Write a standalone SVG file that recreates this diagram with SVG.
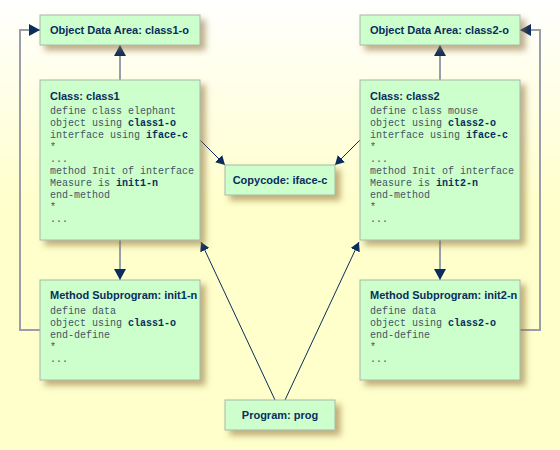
<svg xmlns="http://www.w3.org/2000/svg" width="560" height="450" viewBox="0 0 560 450">
<defs>
<linearGradient id="bg" x1="0" y1="0" x2="0" y2="1">
<stop offset="0" stop-color="#ffffff"/>
<stop offset="0.45" stop-color="#ffffcc"/>
<stop offset="1" stop-color="#ffffcc"/>
</linearGradient>
<filter id="sh" x="-20%" y="-20%" width="150%" height="160%">
<feDropShadow dx="5" dy="5" stdDeviation="3" flood-color="#8a6a30" flood-opacity="0.55"/>
</filter>
<marker id="ah" markerUnits="userSpaceOnUse" markerWidth="12" markerHeight="12" refX="11" refY="6" orient="auto">
<path d="M0,0 L11,6 L0,12 z" fill="#0a2d5e"/>
</marker>
<marker id="as" markerUnits="userSpaceOnUse" markerWidth="10" markerHeight="10" refX="9" refY="5" orient="auto">
<path d="M0,0 L9,5 L0,10 z" fill="#0a2d5e"/>
</marker>
</defs>
<style>
.box{fill:#ccffcc;stroke:#a8b8a8;stroke-width:1;filter:url(#sh)}
.t{font-family:"Liberation Sans",Arial,sans-serif;font-size:11px;font-weight:bold;fill:#0a2d5e}
.c{font-family:"Liberation Mono","Courier New",monospace;font-size:10px;fill:#445566}
.c tspan.b{font-weight:bold;fill:#0a2d5e}
.g{fill:none;stroke:#9a9eaa;stroke-width:2;marker-end:url(#ah)}
.n{fill:none;stroke:#0a2d5e;stroke-width:1;marker-end:url(#as)}
</style>
<rect width="560" height="450" fill="url(#bg)"/>
<g id="connectors">
<line class="g" x1="120" y1="80" x2="120" y2="45"/>
<line class="g" x1="440" y1="80" x2="440" y2="45"/>
<line class="g" x1="120" y1="240" x2="120" y2="280"/>
<line class="g" x1="440" y1="240" x2="440" y2="280"/>
<polyline class="g" points="40,330 20,330 20,30 40,30"/>
<polyline class="g" points="520,330 540,330 540,30 520,30"/>
<line class="n" x1="200" y1="140" x2="225" y2="165"/>
<line class="n" x1="360" y1="140" x2="335" y2="165"/>
<line class="n" x1="275" y1="400" x2="201" y2="242"/>
<line class="n" x1="285" y1="400" x2="359" y2="242"/>
</g>
<g id="oda1">
<rect class="box" x="40" y="15" width="160" height="30"/>
<text class="t" x="50" y="34">Object Data Area: class1-o</text>
</g>
<g id="oda2">
<rect class="box" x="360" y="15" width="160" height="30"/>
<text class="t" x="370" y="34">Object Data Area: class2-o</text>
</g>
<g id="class1">
<rect class="box" x="40" y="80" width="160" height="160"/>
<text class="t" x="50" y="100">Class: class1</text>
<text class="c" x="50" y="114">define class elephant</text>
<text class="c" x="50" y="126">object using <tspan class="b">class1-o</tspan></text>
<text class="c" x="50" y="138">interface using <tspan class="b">iface-c</tspan></text>
<text class="c" x="50" y="150">*</text>
<text class="c" x="50" y="162">...</text>
<text class="c" x="50" y="174">method Init of interface</text>
<text class="c" x="50" y="186">Measure is <tspan class="b">init1-n</tspan></text>
<text class="c" x="50" y="198">end-method</text>
<text class="c" x="50" y="210">*</text>
<text class="c" x="50" y="222">...</text>
</g>
<g id="class2">
<rect class="box" x="360" y="80" width="160" height="160"/>
<text class="t" x="370" y="100">Class: class2</text>
<text class="c" x="370" y="114">define class mouse</text>
<text class="c" x="370" y="126">object using <tspan class="b">class2-o</tspan></text>
<text class="c" x="370" y="138">interface using <tspan class="b">iface-c</tspan></text>
<text class="c" x="370" y="150">*</text>
<text class="c" x="370" y="162">...</text>
<text class="c" x="370" y="174">method Init of interface</text>
<text class="c" x="370" y="186">Measure is <tspan class="b">init2-n</tspan></text>
<text class="c" x="370" y="198">end-method</text>
<text class="c" x="370" y="210">*</text>
<text class="c" x="370" y="222">...</text>
</g>
<g id="copycode">
<rect class="box" x="225" y="165" width="110" height="30"/>
<text class="t" x="280" y="184" text-anchor="middle">Copycode: iface-c</text>
</g>
<g id="method1">
<rect class="box" x="40" y="280" width="160" height="100"/>
<text class="t" x="50" y="299">Method Subprogram: init1-n</text>
<text class="c" x="50" y="314">define data</text>
<text class="c" x="50" y="326">object using <tspan class="b">class1-o</tspan></text>
<text class="c" x="50" y="338">end-define</text>
<text class="c" x="50" y="350">*</text>
<text class="c" x="50" y="362">...</text>
</g>
<g id="method2">
<rect class="box" x="360" y="280" width="160" height="100"/>
<text class="t" x="370" y="299">Method Subprogram: init2-n</text>
<text class="c" x="370" y="314">define data</text>
<text class="c" x="370" y="326">object using <tspan class="b">class2-o</tspan></text>
<text class="c" x="370" y="338">end-define</text>
<text class="c" x="370" y="350">*</text>
<text class="c" x="370" y="362">...</text>
</g>
<g id="prog">
<rect class="box" x="225" y="400" width="110" height="30"/>
<text class="t" x="280" y="419" text-anchor="middle">Program: prog</text>
</g>
</svg>
